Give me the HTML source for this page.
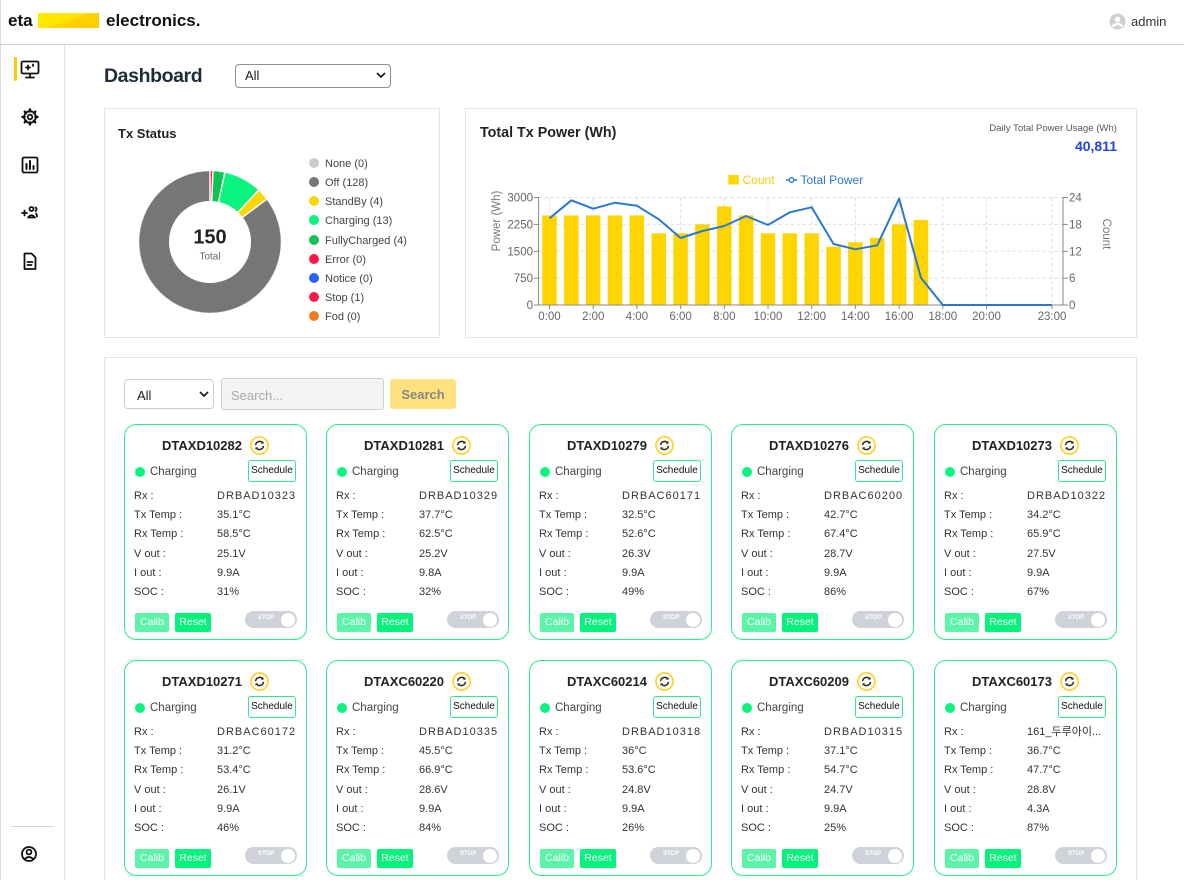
<!DOCTYPE html>
<html><head><meta charset="utf-8">
<style>
*{box-sizing:border-box;margin:0;padding:0}
html,body{width:1184px;height:880px;overflow:hidden;background:#fff;font-family:"Liberation Sans","Noto Sans CJK KR",sans-serif;color:#222}
.a{position:absolute}
.card{position:absolute;width:183px;height:216px;border:1.5px solid #27ef8a;border-radius:12px;background:#fff}
.card .t{position:absolute;left:0;right:0;top:10px;height:20px;display:flex;justify-content:center;align-items:center;gap:8px;font-weight:bold;font-size:13px;color:#222}
.card .t svg{display:block}
.card .dot{position:absolute;left:10px;top:42px;width:10px;height:10px;border-radius:50%;background:#0af57f}
.card .st{position:absolute;left:25px;top:40px;font-size:11.5px;color:#444;line-height:14px}
.card .sch{position:absolute;left:123px;top:35px;width:48px;height:22px;border:1.5px solid #2ee88e;border-radius:3px;font-size:10px;line-height:19px;text-align:center;color:#111}
.card .l,.card .v{position:absolute;font-size:11px;line-height:14px;color:#333;white-space:nowrap}
.card .l{left:9px}
.card .v{left:92px}
.card .v.id{letter-spacing:1px}
.card .calib,.card .reset{position:absolute;top:188px;height:19px;border-radius:2px;color:#fff;font-size:10.5px;line-height:19px;text-align:center}
.card .calib{left:10px;width:34px;background:#5cf4a9}
.card .reset{left:50px;width:36px;background:#05f27c}
.card .tog{position:absolute;left:120px;top:186px;width:52px;height:17px;border-radius:9px;background:#cfd3d9}
.card .tog i{position:absolute;right:2px;top:1.5px;width:14px;height:14px;border-radius:50%;background:#fff}
.card .tog b{position:absolute;left:13px;top:4px;font-size:6px;color:#fff;font-weight:bold}
.lg{position:absolute;left:309px;font-size:11px;color:#444;line-height:12px;white-space:nowrap}
.lg i{display:inline-block;width:10px;height:10px;border-radius:50%;vertical-align:-1px;margin-right:6px}
</style></head><body>
<div class="a" style="left:0;top:0;width:1184px;height:880px;overflow:hidden">

<!-- frame / header -->
<div class="a" style="left:0;top:0;width:1px;height:880px;background:#ddd"></div>
<div class="a" style="left:0;top:44px;width:1184px;height:1px;background:#cfcfcf"></div>
<div class="a" style="left:8px;top:11px;font-weight:bold;font-size:17px;color:#111;line-height:20px">eta</div>
<div class="a" style="left:38px;top:13px;width:61px;height:15px;background:linear-gradient(160deg,#ffec00 0%,#ffe600 45%,#ffd200 55%,#ffcc00 100%)"></div>
<div class="a" style="left:106px;top:11px;font-weight:bold;font-size:17px;color:#111;line-height:20px">electronics.</div>
<svg class="a" style="left:1109px;top:13px" width="17" height="17" viewBox="0 0 17 17"><circle cx="8.5" cy="8.5" r="8" fill="#cfcfcf"/><circle cx="8.5" cy="6.5" r="2.8" fill="#fff"/><path d="M3.6 13.5 Q8.5 8.5 13.4 13.5" stroke="#fff" stroke-width="2.6" fill="none"/></svg>
<div class="a" style="left:1131px;top:14px;font-size:13px;color:#333;line-height:16px">admin</div>

<!-- sidebar -->
<div class="a" style="left:64px;top:45px;width:1px;height:835px;background:#dfe2e7"></div>
<div class="a" style="left:14px;top:57px;width:3px;height:24px;border-radius:2px;background:#ffcc00"></div>
<svg class="a" style="left:0;top:45px" width="64" height="835" viewBox="0 45 64 835">
 <g stroke="#111" stroke-width="1.8" fill="none" stroke-linecap="round" stroke-linejoin="round">
  <rect x="21.5" y="61.5" width="17" height="12" rx="1.5"/>
  <path d="M30 74v3M26 77.5h8"/>
  <path d="M28 65.5v4M26 67.5h4M33 64.5v1.5"/>
  <circle cx="30" cy="117" r="2.3"/>
  <circle cx="30" cy="117" r="5.8"/>
  <path d="M30 109.5v2M30 122.5v2M22.5 117h2M35.5 117h2M24.7 111.7l1.4 1.4M33.9 120.9l1.4 1.4M24.7 122.3l1.4-1.4M33.9 113.1l1.4-1.4" stroke-width="2.4"/>
  <rect x="22.5" y="157.5" width="15" height="15" rx="1.5"/>
  <path d="M26.5 169v-5M30 169v-8M33.5 169v-3" stroke-width="2"/>
  <path d="M22 213h5M24.5 210.5v5"/>
  <circle cx="31.5" cy="209" r="2"/>
  <path d="M28 217.5q3.5-4.5 7 0z"/>
  <path d="M35.5 207.5a2 2 0 0 1 0 3.5M37 216.5q0-2-1-3"/>
  <path d="M24.5 253.5h7l4 4v11.5h-11z"/>
  <path d="M27.5 262h5M27.5 265h4"/>
 </g>
 <line x1="11" y1="826.5" x2="54" y2="826.5" stroke="#d6d6d6" stroke-width="1"/>
 <g stroke="#111" stroke-width="1.8" fill="none">
  <circle cx="29" cy="854" r="7"/>
  <circle cx="29" cy="852" r="2.4"/>
  <path d="M24.5 859.3q4.5-4.5 9 0"/>
 </g>
</svg>

<!-- dashboard title -->
<div class="a" style="left:104px;top:64px;font-weight:bold;font-size:19.5px;letter-spacing:-0.4px;color:#1d2b3c;line-height:24px">Dashboard</div>
<div class="a" style="left:235px;top:64px;width:156px;height:24px;border:1px solid #8a8f98;border-radius:4px"></div>
<div class="a" style="left:245px;top:68px;font-size:13px;color:#222;line-height:16px">All</div>
<svg class="a" style="left:376px;top:71px" width="10" height="8"><path d="M1 2l4 4 4-4" stroke="#222" stroke-width="1.8" fill="none"/></svg>

<!-- Tx Status card -->
<div class="a" style="left:104px;top:108px;width:336px;height:230px;border:1px solid #e4e4e4"></div>
<div class="a" style="left:118px;top:126px;font-weight:bold;font-size:13px;color:#222;line-height:16px">Tx Status</div>
<div class="lg" style="top:158px"><i style="background:#cccccc"></i>None (0)</div>
<div class="lg" style="top:177px"><i style="background:#767676"></i>Off (128)</div>
<div class="lg" style="top:196px"><i style="background:#ffd600"></i>StandBy (4)</div>
<div class="lg" style="top:215px"><i style="background:#0af57f"></i>Charging (13)</div>
<div class="lg" style="top:235px"><i style="background:#0cc44f"></i>FullyCharged (4)</div>
<div class="lg" style="top:254px"><i style="background:#ff1744"></i>Error (0)</div>
<div class="lg" style="top:273px"><i style="background:#2962ff"></i>Notice (0)</div>
<div class="lg" style="top:292px"><i style="background:#ff1744"></i>Stop (1)</div>
<div class="lg" style="top:311px"><i style="background:#f57a1f"></i>Fod (0)</div>

<!-- Power card -->
<div class="a" style="left:465px;top:108px;width:672px;height:230px;border:1px solid #e4e4e4"></div>
<div class="a" style="left:480px;top:125px;font-weight:bold;font-size:14.3px;color:#222;line-height:17px">Total Tx Power (Wh)</div>
<div class="a" style="left:900px;width:217px;top:123px;text-align:right;font-size:9.6px;color:#555;line-height:12px">Daily Total Power Usage (Wh)</div>
<div class="a" style="left:900px;width:217px;top:138px;text-align:right;font-size:14px;font-weight:bold;color:#2242e6;line-height:17px">40,811</div>

<svg class="a" style="left:0;top:0" width="1184" height="880" font-family="Liberation Sans, sans-serif">
 <!-- donut -->
 <g transform="rotate(-90 210 242)" fill="none" stroke-width="30">
  <circle cx="210" cy="242" r="56" stroke="#767676" stroke-dasharray="300.26 351.86" stroke-dashoffset="-51.6"/>
  <circle cx="210" cy="242" r="56" stroke="#ffd600" stroke-dasharray="9.38 351.86" stroke-dashoffset="-42.22"/>
  <circle cx="210" cy="242" r="56" stroke="#0af57f" stroke-dasharray="30.49 351.86" stroke-dashoffset="-11.73"/>
  <circle cx="210" cy="242" r="56" stroke="#0cc44f" stroke-dasharray="9.38 351.86" stroke-dashoffset="-2.35"/>
  <circle cx="210" cy="242" r="56" stroke="#ff1744" stroke-dasharray="2.35 351.86" stroke-dashoffset="0"/>
 </g>
 <g stroke="#fff" stroke-width="1.5">
  <line x1="210" y1="201" x2="210" y2="171"/>
  <line x1="211.72" y1="201.04" x2="212.97" y2="171.06"/>
  <line x1="218.52" y1="201.9" x2="224.76" y2="172.55"/>
  <line x1="238.06" y1="212.1" x2="258.6" y2="190.2"/>
  <line x1="242.68" y1="217.2" x2="266.66" y2="199.22"/>
 </g>
 <circle cx="210" cy="242" r="71" fill="none" stroke="#e8e8e8" stroke-width="0.6"/>
 <text x="210" y="243.5" text-anchor="middle" font-size="20" font-weight="bold" fill="#222">150</text>
 <text x="210" y="259.5" text-anchor="middle" font-size="10" fill="#666">Total</text>

 <!-- chart grid -->
 <g stroke="#dcdcdc" stroke-dasharray="3,3" stroke-width="1">
  <line x1="538.6" y1="197.5" x2="1063" y2="197.5"/>
  <line x1="538.6" y1="224.4" x2="1063" y2="224.4"/>
  <line x1="538.6" y1="251.3" x2="1063" y2="251.3"/>
  <line x1="538.6" y1="278.1" x2="1063" y2="278.1"/>
  <line x1="549.5" y1="197.5" x2="549.5" y2="305"/>
  <line x1="593.2" y1="197.5" x2="593.2" y2="305"/>
  <line x1="636.9" y1="197.5" x2="636.9" y2="305"/>
  <line x1="680.6" y1="197.5" x2="680.6" y2="305"/>
  <line x1="724.3" y1="197.5" x2="724.3" y2="305"/>
  <line x1="768" y1="197.5" x2="768" y2="305"/>
  <line x1="811.7" y1="197.5" x2="811.7" y2="305"/>
  <line x1="855.4" y1="197.5" x2="855.4" y2="305"/>
  <line x1="899.1" y1="197.5" x2="899.1" y2="305"/>
  <line x1="942.8" y1="197.5" x2="942.8" y2="305"/>
  <line x1="986.5" y1="197.5" x2="986.5" y2="305"/>
  <line x1="1052" y1="197.5" x2="1052" y2="305"/>
 </g>
 <!-- bars -->
 <g fill="#ffd500">
  <rect x="542.25" y="215.42" width="14.5" height="89.58"/>
  <rect x="564.1" y="215.42" width="14.5" height="89.58"/>
  <rect x="585.95" y="215.42" width="14.5" height="89.58"/>
  <rect x="607.8" y="215.42" width="14.5" height="89.58"/>
  <rect x="629.65" y="215.42" width="14.5" height="89.58"/>
  <rect x="651.5" y="233.33" width="14.5" height="71.67"/>
  <rect x="673.35" y="233.33" width="14.5" height="71.67"/>
  <rect x="695.2" y="224.37" width="14.5" height="80.63"/>
  <rect x="717.05" y="206.46" width="14.5" height="98.54"/>
  <rect x="738.9" y="215.42" width="14.5" height="89.58"/>
  <rect x="760.75" y="233.33" width="14.5" height="71.67"/>
  <rect x="782.6" y="233.33" width="14.5" height="71.67"/>
  <rect x="804.45" y="233.33" width="14.5" height="71.67"/>
  <rect x="826.3" y="246.77" width="14.5" height="58.23"/>
  <rect x="848.15" y="242.29" width="14.5" height="62.71"/>
  <rect x="870" y="237.81" width="14.5" height="67.19"/>
  <rect x="891.85" y="224.37" width="14.5" height="80.63"/>
  <rect x="913.7" y="219.9" width="14.5" height="85.1"/>
 </g>
 <!-- axes -->
 <g stroke="#8a8a8a" stroke-width="1">
  <line x1="538.6" y1="197" x2="538.6" y2="305"/>
  <line x1="1063" y1="197" x2="1063" y2="305"/>
  <line x1="538.6" y1="305" x2="1063" y2="305"/>
  <line x1="534" y1="197.5" x2="538.6" y2="197.5"/>
  <line x1="534" y1="224.4" x2="538.6" y2="224.4"/>
  <line x1="534" y1="251.3" x2="538.6" y2="251.3"/>
  <line x1="534" y1="278.1" x2="538.6" y2="278.1"/>
  <line x1="534" y1="305" x2="538.6" y2="305"/>
  <line x1="1063" y1="197.5" x2="1068" y2="197.5"/>
  <line x1="1063" y1="224.4" x2="1068" y2="224.4"/>
  <line x1="1063" y1="251.3" x2="1068" y2="251.3"/>
  <line x1="1063" y1="278.1" x2="1068" y2="278.1"/>
  <line x1="1063" y1="305" x2="1068" y2="305"/>
  <line x1="549.5" y1="305" x2="549.5" y2="309"/>
  <line x1="593.2" y1="305" x2="593.2" y2="309"/>
  <line x1="636.9" y1="305" x2="636.9" y2="309"/>
  <line x1="680.6" y1="305" x2="680.6" y2="309"/>
  <line x1="724.3" y1="305" x2="724.3" y2="309"/>
  <line x1="768" y1="305" x2="768" y2="309"/>
  <line x1="811.7" y1="305" x2="811.7" y2="309"/>
  <line x1="855.4" y1="305" x2="855.4" y2="309"/>
  <line x1="899.1" y1="305" x2="899.1" y2="309"/>
  <line x1="942.8" y1="305" x2="942.8" y2="309"/>
  <line x1="986.5" y1="305" x2="986.5" y2="309"/>
  <line x1="1052" y1="305" x2="1052" y2="309"/>
 </g>
 <!-- line -->
 <polyline fill="none" stroke="#2878d4" stroke-width="2" stroke-linejoin="round" points="549.5,218.3 571.35,200.3 593.2,208.7 615.05,202.7 636.9,205.7 658.75,219.3 680.6,238 702.45,231 724.3,226 746.15,216 768,225 789.85,212.3 811.7,207.3 833.55,244 855.4,249.3 877.25,245.3 899.1,198.7 920.95,277.7 942.8,305 1052,305"/>
 <!-- tick labels -->
 <g font-size="11.5" fill="#666">
  <text x="533" y="201.5" text-anchor="end">3000</text>
  <text x="533" y="228.4" text-anchor="end">2250</text>
  <text x="533" y="255.3" text-anchor="end">1500</text>
  <text x="533" y="282.1" text-anchor="end">750</text>
  <text x="533" y="309" text-anchor="end">0</text>
  <text x="1069" y="201.5">24</text>
  <text x="1069" y="228.4">18</text>
  <text x="1069" y="255.3">12</text>
  <text x="1069" y="282.1">6</text>
  <text x="1069" y="309">0</text>
  <g text-anchor="middle">
   <text x="549.5" y="320">0:00</text>
   <text x="593.2" y="320">2:00</text>
   <text x="636.9" y="320">4:00</text>
   <text x="680.6" y="320">6:00</text>
   <text x="724.3" y="320">8:00</text>
   <text x="768" y="320">10:00</text>
   <text x="811.7" y="320">12:00</text>
   <text x="855.4" y="320">14:00</text>
   <text x="899.1" y="320">16:00</text>
   <text x="942.8" y="320">18:00</text>
   <text x="986.5" y="320">20:00</text>
   <text x="1052" y="320">23:00</text>
  </g>
 </g>
 <text transform="translate(500 221) rotate(-90)" text-anchor="middle" font-size="11.5" fill="#777">Power (Wh)</text>
 <text transform="translate(1103 234) rotate(90)" text-anchor="middle" font-size="11.5" fill="#777">Count</text>
 <!-- legend -->
 <rect x="728.3" y="175" width="10.5" height="9.5" fill="#ffd500"/>
 <text x="742.5" y="184" font-size="12" fill="#ffcc00">Count</text>
 <line x1="786" y1="180" x2="797" y2="180" stroke="#2878d4" stroke-width="1.5"/>
 <circle cx="791.5" cy="180" r="2.3" fill="#fff" stroke="#2878d4" stroke-width="1.3"/>
 <text x="800.5" y="184" font-size="12" fill="#2878d4">Total Power</text>
</svg>

<!-- list panel -->
<div class="a" style="left:104px;top:357px;width:1033px;height:540px;border:1px solid #e4e4e4"></div>
<div class="a" style="left:124px;top:379px;width:90px;height:30px;border:1px solid #c9ccd1;border-radius:4px"></div>
<div class="a" style="left:137px;top:388px;font-size:13px;color:#222;line-height:16px">All</div>
<svg class="a" style="left:199px;top:390px" width="10" height="8"><path d="M1 2l4 4 4-4" stroke="#222" stroke-width="1.8" fill="none"/></svg>
<div class="a" style="left:221px;top:378px;width:163px;height:32px;border:1px solid #cdd0d5;border-radius:3px;background:#f1f3f5"></div>
<div class="a" style="left:231px;top:388px;font-size:13px;color:#aaa;line-height:16px">Search...</div>
<div class="a" style="left:390px;top:379px;width:66px;height:30px;border-radius:3px;background:#ffe17d;font-size:13px;font-weight:bold;color:#888;line-height:32px;text-align:center">Search</div>

<!-- cards -->
<svg width="0" height="0" style="position:absolute"><defs><g id="rf"><circle cx="9.5" cy="9.5" r="8.6" fill="#fffdf3" stroke="#ffcf1a" stroke-width="1.5"/><path d="M5.6 9.2a4 4 0 0 1 7-2.4" stroke="#222" stroke-width="1.4" fill="none"/><path d="M13.4 9.8a4 4 0 0 1-7 2.4" stroke="#222" stroke-width="1.4" fill="none"/><path d="M13.6 5.2l-0.2 2.6-2.6-0.3z" fill="#222"/><path d="M5.4 13.8l0.2-2.6 2.6 0.3z" fill="#222"/></g></defs></svg>

<div class="card" style="left:124px;top:424px"><div class="t"><span>DTAXD10282</span><svg width="19" height="19"><use href="#rf"/></svg></div><div class="dot"></div><div class="st">Charging</div><div class="sch">Schedule</div>
<div class="l" style="top:64px">Rx :</div><div class="v id" style="top:64px">DRBAD10323</div>
<div class="l" style="top:83px">Tx Temp :</div><div class="v" style="top:83px">35.1°C</div>
<div class="l" style="top:102px">Rx Temp :</div><div class="v" style="top:102px">58.5°C</div>
<div class="l" style="top:122px">V out :</div><div class="v" style="top:122px">25.1V</div>
<div class="l" style="top:141px">I out :</div><div class="v" style="top:141px">9.9A</div>
<div class="l" style="top:160px">SOC :</div><div class="v" style="top:160px">31%</div>
<div class="calib">Calib</div><div class="reset">Reset</div><div class="tog"><b>STOP</b><i></i></div></div>

<div class="card" style="left:326px;top:424px"><div class="t"><span>DTAXD10281</span><svg width="19" height="19"><use href="#rf"/></svg></div><div class="dot"></div><div class="st">Charging</div><div class="sch">Schedule</div>
<div class="l" style="top:64px">Rx :</div><div class="v id" style="top:64px">DRBAD10329</div>
<div class="l" style="top:83px">Tx Temp :</div><div class="v" style="top:83px">37.7°C</div>
<div class="l" style="top:102px">Rx Temp :</div><div class="v" style="top:102px">62.5°C</div>
<div class="l" style="top:122px">V out :</div><div class="v" style="top:122px">25.2V</div>
<div class="l" style="top:141px">I out :</div><div class="v" style="top:141px">9.8A</div>
<div class="l" style="top:160px">SOC :</div><div class="v" style="top:160px">32%</div>
<div class="calib">Calib</div><div class="reset">Reset</div><div class="tog"><b>STOP</b><i></i></div></div>

<div class="card" style="left:529px;top:424px"><div class="t"><span>DTAXD10279</span><svg width="19" height="19"><use href="#rf"/></svg></div><div class="dot"></div><div class="st">Charging</div><div class="sch">Schedule</div>
<div class="l" style="top:64px">Rx :</div><div class="v id" style="top:64px">DRBAC60171</div>
<div class="l" style="top:83px">Tx Temp :</div><div class="v" style="top:83px">32.5°C</div>
<div class="l" style="top:102px">Rx Temp :</div><div class="v" style="top:102px">52.6°C</div>
<div class="l" style="top:122px">V out :</div><div class="v" style="top:122px">26.3V</div>
<div class="l" style="top:141px">I out :</div><div class="v" style="top:141px">9.9A</div>
<div class="l" style="top:160px">SOC :</div><div class="v" style="top:160px">49%</div>
<div class="calib">Calib</div><div class="reset">Reset</div><div class="tog"><b>STOP</b><i></i></div></div>

<div class="card" style="left:731px;top:424px"><div class="t"><span>DTAXD10276</span><svg width="19" height="19"><use href="#rf"/></svg></div><div class="dot"></div><div class="st">Charging</div><div class="sch">Schedule</div>
<div class="l" style="top:64px">Rx :</div><div class="v id" style="top:64px">DRBAC60200</div>
<div class="l" style="top:83px">Tx Temp :</div><div class="v" style="top:83px">42.7°C</div>
<div class="l" style="top:102px">Rx Temp :</div><div class="v" style="top:102px">67.4°C</div>
<div class="l" style="top:122px">V out :</div><div class="v" style="top:122px">28.7V</div>
<div class="l" style="top:141px">I out :</div><div class="v" style="top:141px">9.9A</div>
<div class="l" style="top:160px">SOC :</div><div class="v" style="top:160px">86%</div>
<div class="calib">Calib</div><div class="reset">Reset</div><div class="tog"><b>STOP</b><i></i></div></div>

<div class="card" style="left:934px;top:424px"><div class="t"><span>DTAXD10273</span><svg width="19" height="19"><use href="#rf"/></svg></div><div class="dot"></div><div class="st">Charging</div><div class="sch">Schedule</div>
<div class="l" style="top:64px">Rx :</div><div class="v id" style="top:64px">DRBAD10322</div>
<div class="l" style="top:83px">Tx Temp :</div><div class="v" style="top:83px">34.2°C</div>
<div class="l" style="top:102px">Rx Temp :</div><div class="v" style="top:102px">65.9°C</div>
<div class="l" style="top:122px">V out :</div><div class="v" style="top:122px">27.5V</div>
<div class="l" style="top:141px">I out :</div><div class="v" style="top:141px">9.9A</div>
<div class="l" style="top:160px">SOC :</div><div class="v" style="top:160px">67%</div>
<div class="calib">Calib</div><div class="reset">Reset</div><div class="tog"><b>STOP</b><i></i></div></div>

<div class="card" style="left:124px;top:660px"><div class="t"><span>DTAXD10271</span><svg width="19" height="19"><use href="#rf"/></svg></div><div class="dot"></div><div class="st">Charging</div><div class="sch">Schedule</div>
<div class="l" style="top:64px">Rx :</div><div class="v id" style="top:64px">DRBAC60172</div>
<div class="l" style="top:83px">Tx Temp :</div><div class="v" style="top:83px">31.2°C</div>
<div class="l" style="top:102px">Rx Temp :</div><div class="v" style="top:102px">53.4°C</div>
<div class="l" style="top:122px">V out :</div><div class="v" style="top:122px">26.1V</div>
<div class="l" style="top:141px">I out :</div><div class="v" style="top:141px">9.9A</div>
<div class="l" style="top:160px">SOC :</div><div class="v" style="top:160px">46%</div>
<div class="calib">Calib</div><div class="reset">Reset</div><div class="tog"><b>STOP</b><i></i></div></div>

<div class="card" style="left:326px;top:660px"><div class="t"><span>DTAXC60220</span><svg width="19" height="19"><use href="#rf"/></svg></div><div class="dot"></div><div class="st">Charging</div><div class="sch">Schedule</div>
<div class="l" style="top:64px">Rx :</div><div class="v id" style="top:64px">DRBAD10335</div>
<div class="l" style="top:83px">Tx Temp :</div><div class="v" style="top:83px">45.5°C</div>
<div class="l" style="top:102px">Rx Temp :</div><div class="v" style="top:102px">66.9°C</div>
<div class="l" style="top:122px">V out :</div><div class="v" style="top:122px">28.6V</div>
<div class="l" style="top:141px">I out :</div><div class="v" style="top:141px">9.9A</div>
<div class="l" style="top:160px">SOC :</div><div class="v" style="top:160px">84%</div>
<div class="calib">Calib</div><div class="reset">Reset</div><div class="tog"><b>STOP</b><i></i></div></div>

<div class="card" style="left:529px;top:660px"><div class="t"><span>DTAXC60214</span><svg width="19" height="19"><use href="#rf"/></svg></div><div class="dot"></div><div class="st">Charging</div><div class="sch">Schedule</div>
<div class="l" style="top:64px">Rx :</div><div class="v id" style="top:64px">DRBAD10318</div>
<div class="l" style="top:83px">Tx Temp :</div><div class="v" style="top:83px">36°C</div>
<div class="l" style="top:102px">Rx Temp :</div><div class="v" style="top:102px">53.6°C</div>
<div class="l" style="top:122px">V out :</div><div class="v" style="top:122px">24.8V</div>
<div class="l" style="top:141px">I out :</div><div class="v" style="top:141px">9.9A</div>
<div class="l" style="top:160px">SOC :</div><div class="v" style="top:160px">26%</div>
<div class="calib">Calib</div><div class="reset">Reset</div><div class="tog"><b>STOP</b><i></i></div></div>

<div class="card" style="left:731px;top:660px"><div class="t"><span>DTAXC60209</span><svg width="19" height="19"><use href="#rf"/></svg></div><div class="dot"></div><div class="st">Charging</div><div class="sch">Schedule</div>
<div class="l" style="top:64px">Rx :</div><div class="v id" style="top:64px">DRBAD10315</div>
<div class="l" style="top:83px">Tx Temp :</div><div class="v" style="top:83px">37.1°C</div>
<div class="l" style="top:102px">Rx Temp :</div><div class="v" style="top:102px">54.7°C</div>
<div class="l" style="top:122px">V out :</div><div class="v" style="top:122px">24.7V</div>
<div class="l" style="top:141px">I out :</div><div class="v" style="top:141px">9.9A</div>
<div class="l" style="top:160px">SOC :</div><div class="v" style="top:160px">25%</div>
<div class="calib">Calib</div><div class="reset">Reset</div><div class="tog"><b>STOP</b><i></i></div></div>

<div class="card" style="left:934px;top:660px"><div class="t"><span>DTAXC60173</span><svg width="19" height="19"><use href="#rf"/></svg></div><div class="dot"></div><div class="st">Charging</div><div class="sch">Schedule</div>
<div class="l" style="top:64px">Rx :</div><div class="v" style="top:64px">161_두루아이...</div>
<div class="l" style="top:83px">Tx Temp :</div><div class="v" style="top:83px">36.7°C</div>
<div class="l" style="top:102px">Rx Temp :</div><div class="v" style="top:102px">47.7°C</div>
<div class="l" style="top:122px">V out :</div><div class="v" style="top:122px">28.8V</div>
<div class="l" style="top:141px">I out :</div><div class="v" style="top:141px">4.3A</div>
<div class="l" style="top:160px">SOC :</div><div class="v" style="top:160px">87%</div>
<div class="calib">Calib</div><div class="reset">Reset</div><div class="tog"><b>STOP</b><i></i></div></div>

</div>
</body></html>
